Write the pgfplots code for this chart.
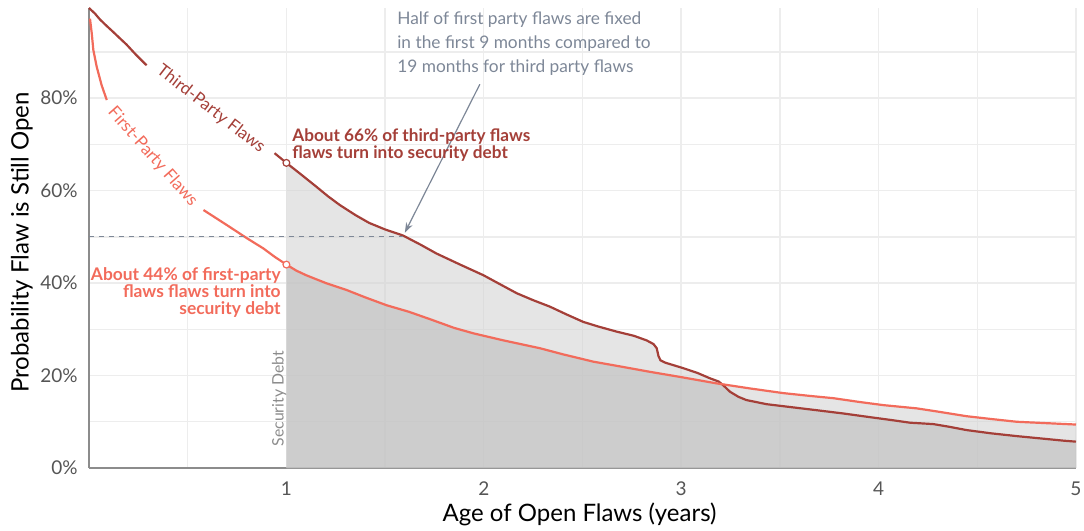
\documentclass[border=0pt]{standalone}
\usepackage{fontspec}
\setmainfont{Lato}
\usepackage{pgfplots}
\usepackage{pgfplotstable}
\pgfplotsset{compat=1.18}
\usetikzlibrary{arrows.meta}
\definecolor{third}{HTML}{A43F38}
\definecolor{first}{HTML}{F26B5B}
\definecolor{note}{HTML}{7D8797}
\definecolor{gridc}{HTML}{EDEDED}
\definecolor{axc}{HTML}{8C8C8C}
\definecolor{tickc}{HTML}{555555}

\pgfplotstableread{
x y
0 99.5
0.03 98.3
0.056 97.0
0.09 95.6
0.123 94.3
0.16 92.8
0.19 91.6
0.24 89.3
0.292 87.1
0.6 nan
0.94 68.1
1.0 66.0
1.08 63.3
1.153 60.8
1.21 58.8
1.27 56.9
1.35 54.7
1.42 53.0
1.5 51.6
1.59 50.3
1.68 48.3
1.76 46.4
1.88 44.0
1.998 41.7
2.08 39.8
2.167 37.8
2.25 36.3
2.335 34.9
2.42 33.2
2.504 31.6
2.58 30.6
2.673 29.5
2.76 28.6
2.825 27.6
2.86 26.8
2.876 25.9
2.885 24.2
2.895 23.3
2.918 22.8
3.01 21.6
3.08 20.6
3.146 19.4
3.19 18.7
3.213 17.9
3.247 16.5
3.29 15.4
3.33 14.7
3.433 13.8
3.55 13.2
3.686 12.5
3.82 11.8
3.956 11.0
4.06 10.4
4.159 9.8
4.277 9.5
4.36 8.9
4.446 8.2
4.57 7.5
4.699 6.9
4.82 6.4
4.94 5.9
5.0 5.7
}\thirdparty

\pgfplotstableread{
x y
0.005 97.2
0.014 94.0
0.022 90.4
0.039 86.8
0.064 82.8
0.09 79.6
0.3 nan
0.58 55.8
0.7 52.5
0.8 49.7
0.883 47.5
0.94 45.7
1.0 44.0
1.05 42.7
1.1 41.7
1.2 40.0
1.305 38.5
1.4 36.9
1.508 35.2
1.62 33.8
1.727 32.2
1.85 30.3
1.95 29.1
2.1 27.6
2.285 25.9
2.4 24.6
2.555 23.0
2.7 21.9
2.842 20.8
2.994 19.7
3.18 18.3
3.35 17.2
3.517 16.2
3.65 15.6
3.771 15.1
3.9 14.3
4.024 13.6
4.193 12.9
4.3 12.2
4.446 11.2
4.57 10.6
4.7 10.0
4.85 9.7
5.0 9.4
}\firstparty

\begin{document}
\begin{tikzpicture}
\useasboundingbox (-44.5pt,-31.5pt) rectangle (497.5pt,234pt);
\begin{axis}[
  scale only axis,
  width=493.5pt, height=230pt,
  xmin=0, xmax=5, ymin=0, ymax=99.5,
  clip=false,
  axis lines=left,
  axis line style={draw=axc, line width=0.6pt, -},
  xtick={1,2,3,4,5}, xticklabels={1,2,3,4,5},
  minor xtick={0.5,1.5,2.5,3.5,4.5},
  ytick={0,20,40,60,80}, yticklabels={0\%,20\%,40\%,60\%,80\%},
  minor ytick={10,30,50,70,90},
  major tick length=0pt, minor tick length=0pt,
  grid=both,
  major grid style={draw=gridc, line width=0.7pt},
  minor grid style={draw=gridc, line width=0.7pt},
  tick label style={font=\fontsize{9.5}{10}\selectfont, text=tickc, inner sep=0pt},
  yticklabel style={xshift=-5.5pt},
  xticklabel style={yshift=-6.5pt},
  xlabel={Age of Open Flaws (years)},
  ylabel={Probability Flaw is Still Open},
  label style={font=\fontsize{12}{13}\selectfont},
  xlabel style={at={(axis description cs:0.497,-0.1)}, anchor=center},
  ylabel style={at={(axis description cs:-0.068,0.49)}, anchor=center, rotate=0},
  unbounded coords=jump,
]
% soften the grid under the shaded areas
\addplot[draw=none, fill=white, fill opacity=0.6, restrict x to domain=1:5, unbounded coords=discard] table[x=x,y=y] {\thirdparty} \closedcycle;
\addplot[draw=none, fill=white, fill opacity=0.6, restrict x to domain=1:5, unbounded coords=discard] table[x=x,y=y] {\firstparty} \closedcycle;
% shaded areas from x = 1
\addplot[draw=none, fill=black, fill opacity=0.1, restrict x to domain=1:5, unbounded coords=discard] table[x=x,y=y] {\thirdparty} \closedcycle;
\addplot[draw=none, fill=black, fill opacity=0.1, restrict x to domain=1:5, unbounded coords=discard] table[x=x,y=y] {\firstparty} \closedcycle;

% curves
\addplot[third, line width=1.1pt] table[x=x,y=y] {\thirdparty};
\addplot[first, line width=1.1pt] table[x=x,y=y] {\firstparty};

% markers at one year
\addplot[only marks, mark=*, mark size=1.7pt, mark options={fill=white, draw=third, line width=0.6pt}] coordinates {(1,66.0)};
\addplot[only marks, mark=*, mark size=1.7pt, mark options={fill=white, draw=first, line width=0.6pt}] coordinates {(1,44.0)};

% dashed 50% line and arrow
\draw[note, dash pattern=on 2.5pt off 2.5pt, line width=0.5pt] (axis cs:0,50) -- (axis cs:1.59,50);
\draw[note, line width=0.6pt, -{Stealth[length=5pt,width=3.5pt]}] (axis cs:1.98,83.0) -- (axis cs:1.6,50.9);

% curve labels
\node[third, rotate=-37.7, font=\fontsize{8.5}{10}\selectfont] at (axis cs:0.617,77.6) {Third-Party Flaws};
\node[first, rotate=-48.5, font=\fontsize{8.5}{10}\selectfont] at (axis cs:0.322,67.3) {First-Party Flaws};

% annotations
\node[third, anchor=west, align=left, inner sep=0pt, font=\fontsize{8.6}{8.3}\bfseries\selectfont] at (axis cs:1.028,69.8) {About 66\% of third-party flaws\\flaws turn into security debt};
\node[first, anchor=east, align=right, inner sep=0pt, font=\fontsize{8.7}{8.5}\bfseries\selectfont] at (axis cs:0.973,38.0) {About 44\% of first-party\\flaws flaws turn into\\security debt};
\node[note, anchor=west, align=left, inner sep=0pt, font=\fontsize{8.65}{12}\selectfont] at (axis cs:1.56,91.7) {Half of first party flaws are fixed\\in the first 9 months compared to\\19 months for third party flaws};
\node[axc, rotate=90, inner sep=0pt, font=\fontsize{7.9}{8}\selectfont] at (axis cs:0.963,15.0) {Security Debt};
\end{axis}
\end{tikzpicture}
\end{document}
